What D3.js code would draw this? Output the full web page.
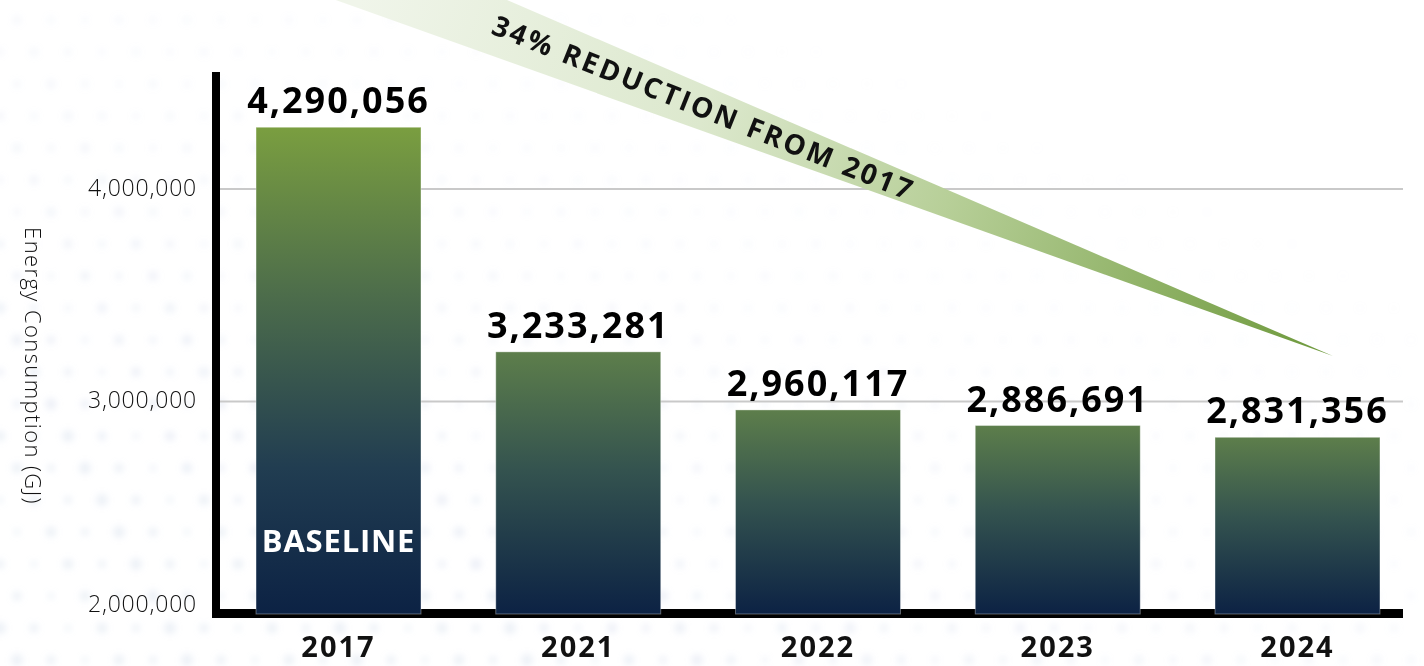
<!doctype html>
<html>
<head>
	<script src="https://d3js.org/d3.v7.min.js"></script>
	<style>
		body { margin: 0; background: #fff; }
		svg { display: block; font-family: "Open Sans", "Noto Sans", sans-serif; }
	</style>
</head>
<body>
	<div id="viz">
		<svg style="width:1424px;height:666px;"></svg>
	</div>
	<script>
		// data
		var years = ["2017", "2021", "2022", "2023", "2024"];
		var energy = [4290056, 3233281, 2960117, 2886691, 2831356];
		var tickValues = [2000000, 3000000, 4000000];
		var axisTitle = "Energy Consumption (GJ)";
		var baselineLabel = "BASELINE";

		dataViz()
		function dataViz() {
			var svg = d3.select("svg");
			var defs = svg.append("defs");

			var xScale = d3.scaleBand()
				.domain(years)
				.range([216, 1420])
				.paddingInner(0.312)
				.paddingOuter(0.167);

			var yScale = d3.scaleLinear()
				.domain([2000000, 4550000])
				.range([614, 72]);

			var fmt = d3.format(",");
			var data = years.map((y, i) => ({year: y, value: energy[i]}));

			// faint dotted background
			var blur = defs.append("filter").attr("id", "blur")
				.attr("x", "-50%").attr("y", "-50%").attr("width", "200%").attr("height", "200%");
			blur.append("feGaussianBlur").attr("stdDeviation", 3);

			var dots = [];
			for (var gx = 0; gx < 1424; gx += 34) {
				for (var gy = 20; gy < 666; gy += 32) {
					var off = (Math.round(gy / 32) % 2) * 17;
					var px = gx + off, py = gy;
					// fade the pattern towards the upper right
					var w = 1 - Math.min(1, Math.max(0, (px / 1424) * 0.8 + (1 - py / 666) * 0.9 - 0.35));
					if (w > 0.05) dots.push({x: px, y: py, r: 3 + 3 * w * ((px * 7 + py * 3) % 5) / 4, o: 0.3 * w});
				}
			}
			svg.append("g")
				.attr("filter", "url(#blur)")
				.selectAll("circle")
				.data(dots)
				.enter()
				.append("circle")
					.attr("cx", d => d.x)
					.attr("cy", d => d.y)
					.attr("r", d => d.r)
					.attr("fill", "#c3cfe6")
					.attr("opacity", d => d.o);

			// gradients for the bars
			var g1 = defs.append("linearGradient").attr("id", "gradBase")
				.attr("x1", 0).attr("y1", 0).attr("x2", 0).attr("y2", 1);
			g1.append("stop").attr("offset", "0%").attr("stop-color", "#7a9e40");
			g1.append("stop").attr("offset", "35%").attr("stop-color", "#4c6c4b");
			g1.append("stop").attr("offset", "70%").attr("stop-color", "#213d51");
			g1.append("stop").attr("offset", "100%").attr("stop-color", "#0c2244");

			var g2 = defs.append("linearGradient").attr("id", "gradBar")
				.attr("x1", 0).attr("y1", 0).attr("x2", 0).attr("y2", 1);
			g2.append("stop").attr("offset", "0%").attr("stop-color", "#5d7e4b");
			g2.append("stop").attr("offset", "45%").attr("stop-color", "#34534f");
			g2.append("stop").attr("offset", "100%").attr("stop-color", "#0c2244");

			// gridlines
			svg.append("g")
				.selectAll("line")
				.data(tickValues.slice(1))
				.enter()
				.append("line")
					.attr("x1", 216)
					.attr("x2", 1403)
					.attr("y1", d => yScale(d))
					.attr("y2", d => yScale(d))
					.attr("stroke", "#c9c9c9")
					.attr("stroke-width", 2);

			// reduction wedge
			var pct = Math.round((1 - energy[energy.length - 1] / energy[0]) * 100);
			var apex = [1333, 356];
			var wg = defs.append("linearGradient").attr("id", "gradWedge")
				.attr("gradientUnits", "userSpaceOnUse")
				.attr("x1", 360).attr("y1", 0).attr("x2", apex[0]).attr("y2", apex[1]);
			wg.append("stop").attr("offset", "0%").attr("stop-color", "#f0f5ea");
			wg.append("stop").attr("offset", "35%").attr("stop-color", "#dce8cd");
			wg.append("stop").attr("offset", "60%").attr("stop-color", "#b7cf98");
			wg.append("stop").attr("offset", "100%").attr("stop-color", "#6c983a");

			var sUp = 0.431, sLo = 0.357, xw = 250;
			svg.append("path")
				.attr("d", d3.line()([
					[xw, apex[1] - sUp * (apex[0] - xw)],
					apex,
					[xw, apex[1] - sLo * (apex[0] - xw)]
				]) + "Z")
				.attr("fill", "url(#gradWedge)");

			svg.append("text")
				.attr("transform", "translate(704,107) rotate(21.8)")
				.attr("text-anchor", "middle")
				.attr("dominant-baseline", "central")
				.attr("font-size", 28)
				.attr("font-weight", 700)
				.attr("letter-spacing", 2.7)
				.attr("fill", "#111")
				.text(pct + "% REDUCTION FROM " + years[0]);

			// axes lines
			svg.append("line")
				.attr("x1", 216).attr("x2", 216)
				.attr("y1", yScale.range()[1]).attr("y2", 618)
				.attr("stroke", "#000").attr("stroke-width", 8);
			svg.append("line")
				.attr("x1", 212).attr("x2", 1403)
				.attr("y1", 613.5).attr("y2", 613.5)
				.attr("stroke", "#000").attr("stroke-width", 9);

			// bars
			svg.append("g")
				.selectAll("rect")
				.data(data)
				.enter()
				.append("rect")
					.attr("x", d => xScale(d.year))
					.attr("width", xScale.bandwidth())
					.attr("y", d => yScale(d.value))
					.attr("height", d => yScale(2000000) - yScale(d.value))
					.attr("fill", (d, i) => i === 0 ? "url(#gradBase)" : "url(#gradBar)")
					.attr("stroke", "rgba(255,255,255,0.35)")
					.attr("stroke-width", 1);

			// value labels
			svg.append("g")
				.selectAll("text")
				.data(data)
				.enter()
				.append("text")
					.attr("x", d => xScale(d.year) + xScale.bandwidth() / 2)
					.attr("y", d => yScale(d.value) - 14)
					.attr("text-anchor", "middle")
					.attr("font-size", 36)
					.attr("font-weight", 700)
					.attr("letter-spacing", 2)
					.attr("fill", "#000")
					.text(d => fmt(d.value));

			// baseline tag
			svg.append("text")
				.attr("x", xScale(years[0]) + xScale.bandwidth() / 2)
				.attr("y", yScale(2000000) - 62)
				.attr("text-anchor", "middle")
				.attr("font-size", 31)
				.attr("font-weight", 700)
				.attr("letter-spacing", 0.8)
				.attr("fill", "#fff")
				.text(baselineLabel);

			// year labels
			svg.append("g")
				.selectAll("text")
				.data(years)
				.enter()
				.append("text")
					.attr("x", d => xScale(d) + xScale.bandwidth() / 2)
					.attr("y", 657)
					.attr("text-anchor", "middle")
					.attr("font-size", 29)
					.attr("font-weight", 700)
					.attr("letter-spacing", 2)
					.attr("fill", "#111")
					.text(d => d);

			// y tick labels
			svg.append("g")
				.selectAll("text")
				.data(tickValues)
				.enter()
				.append("text")
					.attr("x", 197)
					.attr("y", (d, i) => yScale(d) - (i === 0 ? 11 : 2))
					.attr("text-anchor", "end")
					.attr("dominant-baseline", "central")
					.attr("font-size", 23)
					.attr("font-weight", 300)
					.attr("letter-spacing", 0.8)
					.attr("fill", "#111")
					.text(d => fmt(d));

			// y axis title
			svg.append("text")
				.attr("transform", "translate(34,366) rotate(90)")
				.attr("text-anchor", "middle")
				.attr("dominant-baseline", "central")
				.attr("font-size", 22)
				.attr("font-weight", 300)
				.attr("letter-spacing", 1.4)
				.attr("fill", "#111")
				.text(axisTitle);
		}
	</script>
</body>
</html>
